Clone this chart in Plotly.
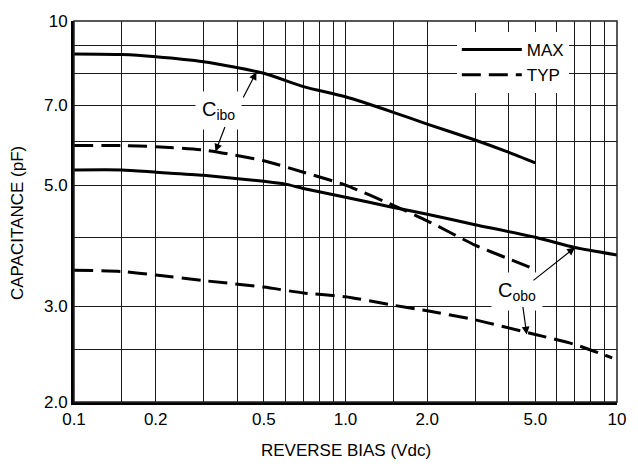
import plotly.graph_objects as go
import math

# ---- data ----
cibo_max_x = [0.1, 0.15, 0.2, 0.3, 0.5, 0.7, 1.0, 1.5, 2.0, 3.0, 4.0, 5.0]
cibo_max_y = [8.7, 8.68, 8.6, 8.42, 8.02, 7.58, 7.26, 6.8, 6.47, 6.05, 5.74, 5.49]

cibo_typ_x = [0.1, 0.15, 0.2, 0.3, 0.5, 0.7, 1.0, 1.5, 2.0, 3.0, 4.0, 5.0]
cibo_typ_y = [5.91, 5.91, 5.88, 5.8, 5.54, 5.28, 5.0, 4.59, 4.3, 3.88, 3.66, 3.5]

cobo_max_x = [0.1, 0.15, 0.2, 0.3, 0.5, 0.6, 0.7, 1.0, 1.5, 2.0, 3.0, 5.0, 7.0, 10.0]
cobo_max_y = [5.33, 5.33, 5.28, 5.21, 5.08, 5.02, 4.93, 4.75, 4.55, 4.42, 4.23, 4.01, 3.84, 3.72]

cobo_typ_x = [0.1, 0.15, 0.2, 0.3, 0.5, 0.7, 1.0, 1.5, 2.0, 3.0, 5.0, 7.0, 9.6]
cobo_typ_y = [3.49, 3.47, 3.42, 3.34, 3.25, 3.17, 3.12, 3.01, 2.94, 2.83, 2.66, 2.55, 2.41]

x_ticks = [0.1, 0.2, 0.5, 1.0, 2.0, 5.0, 10.0]
x_labels = ["0.1", "0.2", "0.5", "1.0", "2.0", "5.0", "10"]
x_minor = [0.15, 0.3, 0.4, 0.6, 0.7, 0.8, 0.9, 1.5, 3.0, 4.0, 6.0, 7.0, 8.0, 9.0]
y_ticks = [2.0, 3.0, 5.0, 7.0, 10.0]
y_labels = ["2.0", "3.0", "5.0", "7.0", "10"]
y_minor = [2.5, 4.0, 6.0, 8.0, 9.0]

FONT = "Liberation Sans, Arial, sans-serif"
DASH = "19px,8px"
GRID = "#1a1a1a"

fig = go.Figure()
fig.add_trace(go.Scatter(x=cibo_max_x, y=cibo_max_y, mode="lines", name="MAX",
                         line=dict(color="black", width=3, shape="spline", smoothing=0.6)))
fig.add_trace(go.Scatter(x=cibo_typ_x, y=cibo_typ_y, mode="lines", name="TYP",
                         line=dict(color="black", width=3, dash=DASH, shape="spline", smoothing=0.6)))
fig.add_trace(go.Scatter(x=cobo_max_x, y=cobo_max_y, mode="lines", name="MAX",
                         line=dict(color="black", width=3, shape="spline", smoothing=0.6),
                         showlegend=False))
fig.add_trace(go.Scatter(x=cobo_typ_x, y=cobo_typ_y, mode="lines", name="TYP",
                         line=dict(color="black", width=3, dash=DASH, shape="spline", smoothing=0.6),
                         showlegend=False))

annos = []
annos.append(dict(x=math.log10(0.341), y=math.log10(6.84), xref="x", yref="y",
                  text="C<sub>ibo</sub>", showarrow=False, bgcolor="white",
                  font=dict(family=FONT, size=20, color="black"), borderpad=6))
annos.append(dict(x=math.log10(4.28), y=math.log10(3.19), xref="x", yref="y",
                  text="C<sub>obo</sub>", showarrow=False, bgcolor="white",
                  font=dict(family=FONT, size=20, color="black"), borderpad=6))
arrow_common = dict(xref="x", yref="y", text="", showarrow=True, arrowhead=2,
                    arrowsize=1.3, arrowwidth=1.2, arrowcolor="black", standoff=0)
annos.append(dict(x=math.log10(0.47), y=math.log10(8.06), ax=-14, ay=27, **arrow_common))
annos.append(dict(x=math.log10(0.332), y=math.log10(5.76), ax=10, ay=-26, **arrow_common))
annos.append(dict(x=math.log10(7.0), y=math.log10(3.84), ax=-43, ay=34, **arrow_common))
annos.append(dict(x=math.log10(4.65), y=math.log10(2.66), ax=-4, ay=-29, **arrow_common))
annos.append(dict(x=0.5, y=-0.126, xref="paper", yref="paper", yanchor="middle",
                  text="REVERSE BIAS (Vdc)", showarrow=False,
                  font=dict(family=FONT, size=17, color="black")))
annos.append(dict(x=-0.103, y=0.47, xref="paper", yref="paper", textangle=-90,
                  text="CAPACITANCE (pF)", showarrow=False, xanchor="center",
                  yanchor="middle", font=dict(family=FONT, size=17, color="black")))

fig.update_layout(
    width=638, height=464,
    margin=dict(l=74, r=16, t=17, b=62),
    paper_bgcolor="white", plot_bgcolor="white",
    font=dict(family=FONT, size=17, color="black"),
    showlegend=True,
    legend=dict(x=0.705, y=0.971, xanchor="left", yanchor="top",
                bgcolor="white", borderwidth=0, itemwidth=60,
                font=dict(family=FONT, size=17, color="black"),
                tracegroupgap=0),
    annotations=annos,
    shapes=[dict(type="rect", xref="paper", yref="paper", x0=0, y0=0, x1=1, y1=1,
                 line=dict(color="#222", width=1.5), layer="above")],
)
fig.update_xaxes(type="log", range=[-1, 1], tickmode="array", tickvals=x_ticks,
                 ticktext=x_labels, showgrid=True, gridcolor=GRID, gridwidth=1.3,
                 minor=dict(tickmode="array", tickvals=x_minor, showgrid=True,
                            gridcolor=GRID, gridwidth=1.3, ticks=""),
                 showline=True, linecolor="black", linewidth=3, ticks="",
                 zeroline=False, tickfont=dict(size=17))
fig.update_yaxes(type="log", range=[math.log10(2), 1], tickmode="array", tickvals=y_ticks,
                 ticktext=y_labels, showgrid=True, gridcolor=GRID, gridwidth=1.3,
                 minor=dict(tickmode="array", tickvals=y_minor, showgrid=True,
                            gridcolor=GRID, gridwidth=1.3, ticks=""),
                 showline=True, linecolor="black", linewidth=3, ticks="",
                 zeroline=False, tickfont=dict(size=17))

fig.write_html("out.html", config={"displayModeBar": False},
               post_script="document.body.style.margin='0';document.body.style.padding='0';")
